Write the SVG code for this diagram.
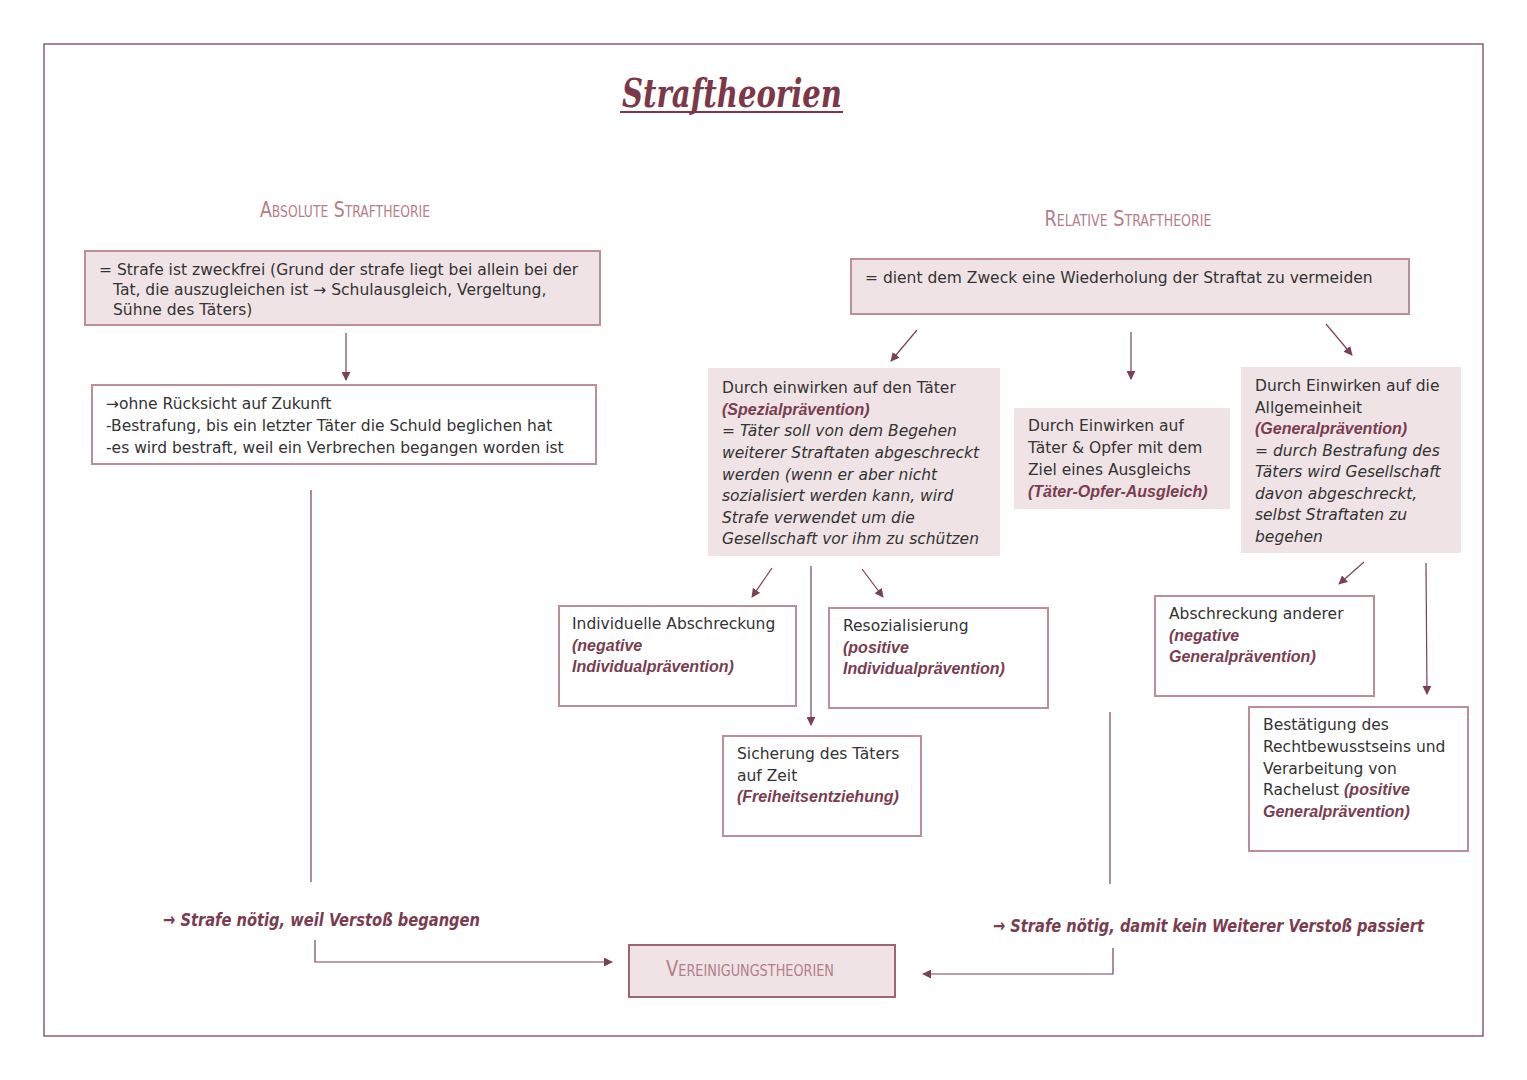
<svg xmlns="http://www.w3.org/2000/svg" width="1527" height="1080" viewBox="0 0 1527 1080">
<defs>
<marker id="ah" viewBox="0 0 10 10" refX="9" refY="5" markerWidth="9" markerHeight="9" markerUnits="userSpaceOnUse" orient="auto">
<path d="M0,0 L10,5 L0,10 z" fill="#7a4151"/>
</marker>
</defs>
<style>
.frame{fill:#fff;stroke:#8d5f6a;stroke-width:1.5}
.fill{fill:#efe3e5;stroke:#bb8f98;stroke-width:2}
.fillnb{fill:#efe3e5;stroke:none}
.open{fill:#fff;stroke:#bb8f98;stroke-width:2}
.t{font-family:"DejaVu Sans","Liberation Sans",sans-serif;font-size:15.5px;fill:#333}
.i{font-style:italic}
.b{font-family:"Liberation Sans",Arial,sans-serif;font-size:16px;font-style:italic;font-weight:bold;fill:#7a3d50}
.hdr{font-family:"DejaVu Sans Condensed","DejaVu Sans",sans-serif;font-variant:small-caps;font-size:21px;fill:#b47e88;font-stretch:condensed}
.concl{font-family:"DejaVu Sans Condensed","DejaVu Sans",sans-serif;font-style:italic;font-weight:bold;font-size:18px;fill:#7a3d50}
.title{font-family:"DejaVu Serif",serif;font-style:italic;font-weight:bold;font-size:40px;fill:#7c3848}
.ln{fill:none;stroke:#7a4151;stroke-width:1.2}
.arr{fill:none;stroke:#7a4151;stroke-width:1.2;marker-end:url(#ah)}
</style>
<rect x="0" y="0" width="1527" height="1080" fill="#fff"/>
<rect class="frame" x="44" y="44" width="1439" height="992"/>

<g id="title">
<text class="title" x="732" y="107" text-anchor="middle" textLength="220" lengthAdjust="spacingAndGlyphs">Straftheorien</text>
<line x1="620" y1="112" x2="843" y2="112" stroke="#7c3848" stroke-width="2"/>
</g>

<g id="hdr-absolute"><text class="hdr" x="345" y="217" text-anchor="middle" textLength="170" lengthAdjust="spacingAndGlyphs">Absolute Straftheorie</text></g>
<g id="hdr-relative"><text class="hdr" x="1128" y="226" text-anchor="middle" textLength="167" lengthAdjust="spacingAndGlyphs">Relative Straftheorie</text></g>

<g id="abs-def">
<rect class="fill" x="85" y="251" width="515" height="74"/>
<text class="t" x="99" y="275">= Strafe ist zweckfrei (Grund der strafe liegt bei allein bei der</text>
<text class="t" x="113" y="295">Tat, die auszugleichen ist → Schulausgleich, Vergeltung,</text>
<text class="t" x="113" y="315">Sühne des Täters)</text>
</g>

<g id="abs-detail">
<rect class="open" x="92" y="385" width="504" height="79"/>
<text class="t" x="106" y="409">→ohne Rücksicht auf Zukunft</text>
<text class="t" x="106" y="431">-Bestrafung, bis ein letzter Täter die Schuld beglichen hat</text>
<text class="t" x="106" y="453">-es wird bestraft, weil ein Verbrechen begangen worden ist</text>
</g>

<g id="abs-concl"><text class="concl" x="163" y="926" textLength="317" lengthAdjust="spacingAndGlyphs">→ Strafe nötig, weil Verstoß begangen</text></g>

<g id="rel-def">
<rect class="fill" x="851" y="259" width="558" height="55"/>
<text class="t" x="865" y="283">= dient dem Zweck eine Wiederholung der Straftat zu vermeiden</text>
</g>

<g id="spezial">
<rect class="fillnb" x="708" y="368" width="292" height="188"/>
<text class="t" x="722" y="393">Durch einwirken auf den Täter</text>
<text class="b" x="722" y="415">(Spezialprävention)</text>
<text class="t i" x="722" y="436">= Täter soll von dem Begehen</text>
<text class="t i" x="722" y="458">weiterer Straftaten abgeschreckt</text>
<text class="t i" x="722" y="480">werden (wenn er aber nicht</text>
<text class="t i" x="722" y="501">sozialisiert werden kann, wird</text>
<text class="t i" x="722" y="523">Strafe verwendet um die</text>
<text class="t i" x="722" y="544">Gesellschaft vor ihm zu schützen</text>
</g>

<g id="toa">
<rect class="fillnb" x="1014" y="408" width="216" height="101"/>
<text class="t" x="1028" y="431">Durch Einwirken auf</text>
<text class="t" x="1028" y="453">Täter &amp; Opfer mit dem</text>
<text class="t" x="1028" y="475">Ziel eines Ausgleichs</text>
<text class="b" x="1028" y="497">(Täter-Opfer-Ausgleich)</text>
</g>

<g id="general">
<rect class="fillnb" x="1241" y="367" width="220" height="186"/>
<text class="t" x="1255" y="391">Durch Einwirken auf die</text>
<text class="t" x="1255" y="413">Allgemeinheit</text>
<text class="b" x="1255" y="434">(Generalprävention)</text>
<text class="t i" x="1255" y="456">= durch Bestrafung des</text>
<text class="t i" x="1255" y="477">Täters wird Gesellschaft</text>
<text class="t i" x="1255" y="499">davon abgeschreckt,</text>
<text class="t i" x="1255" y="520">selbst Straftaten zu</text>
<text class="t i" x="1255" y="542">begehen</text>
</g>

<g id="indiv-neg">
<rect class="open" x="559" y="606" width="237" height="100"/>
<text class="t" x="572" y="629">Individuelle Abschreckung</text>
<text class="b" x="572" y="651">(negative</text>
<text class="b" x="572" y="672">Individualprävention)</text>
</g>

<g id="resoz">
<rect class="open" x="829" y="608" width="219" height="100"/>
<text class="t" x="843" y="631">Resozialisierung</text>
<text class="b" x="843" y="653">(positive</text>
<text class="b" x="843" y="674">Individualprävention)</text>
</g>

<g id="sicherung">
<rect class="open" x="723" y="736" width="198" height="100"/>
<text class="t" x="737" y="759">Sicherung des Täters</text>
<text class="t" x="737" y="781">auf Zeit</text>
<text class="b" x="737" y="802">(Freiheitsentziehung)</text>
</g>

<g id="abschreckung">
<rect class="open" x="1155" y="596" width="219" height="100"/>
<text class="t" x="1169" y="619">Abschreckung anderer</text>
<text class="b" x="1169" y="641">(negative</text>
<text class="b" x="1169" y="662">Generalprävention)</text>
</g>

<g id="bestaetigung">
<rect class="open" x="1249" y="707" width="219" height="144"/>
<text class="t" x="1263" y="730">Bestätigung des</text>
<text class="t" x="1263" y="752">Rechtbewusstseins und</text>
<text class="t" x="1263" y="774">Verarbeitung von</text>
<text class="t" x="1263" y="795">Rachelust <tspan class="b">(positive</tspan></text>
<text class="b" x="1263" y="817">Generalprävention)</text>
</g>

<g id="rel-concl"><text class="concl" x="993" y="932" textLength="431" lengthAdjust="spacingAndGlyphs">→ Strafe nötig, damit kein Weiterer Verstoß passiert</text></g>

<g id="vereinigung">
<rect x="629" y="945" width="266" height="52" fill="#efe3e5" stroke="#9a6672" stroke-width="2"/>
<text class="hdr" x="750" y="976" text-anchor="middle" textLength="168" lengthAdjust="spacingAndGlyphs">Vereinigungstheorien</text>
</g>

<g id="connectors">
<line class="arr" x1="346" y1="333" x2="346" y2="380"/>
<line class="ln" x1="311" y1="490" x2="311" y2="882"/>
<polyline class="arr" points="315,940 315,962 612,962"/>
<polyline class="arr" points="1113,948 1113,974 923,974"/>
<line class="ln" x1="1110" y1="712" x2="1110" y2="884"/>
<line class="arr" x1="917" y1="330" x2="891" y2="361"/>
<line class="arr" x1="1131" y1="332" x2="1131" y2="379"/>
<line class="arr" x1="1326" y1="324" x2="1352" y2="355"/>
<line class="arr" x1="772" y1="568" x2="752" y2="597"/>
<line class="arr" x1="811" y1="566" x2="811" y2="725"/>
<line class="arr" x1="862" y1="569" x2="883" y2="597"/>
<line class="arr" x1="1364" y1="562" x2="1339" y2="584"/>
<line class="arr" x1="1426" y1="563" x2="1427" y2="694"/>
</g>
</svg>
